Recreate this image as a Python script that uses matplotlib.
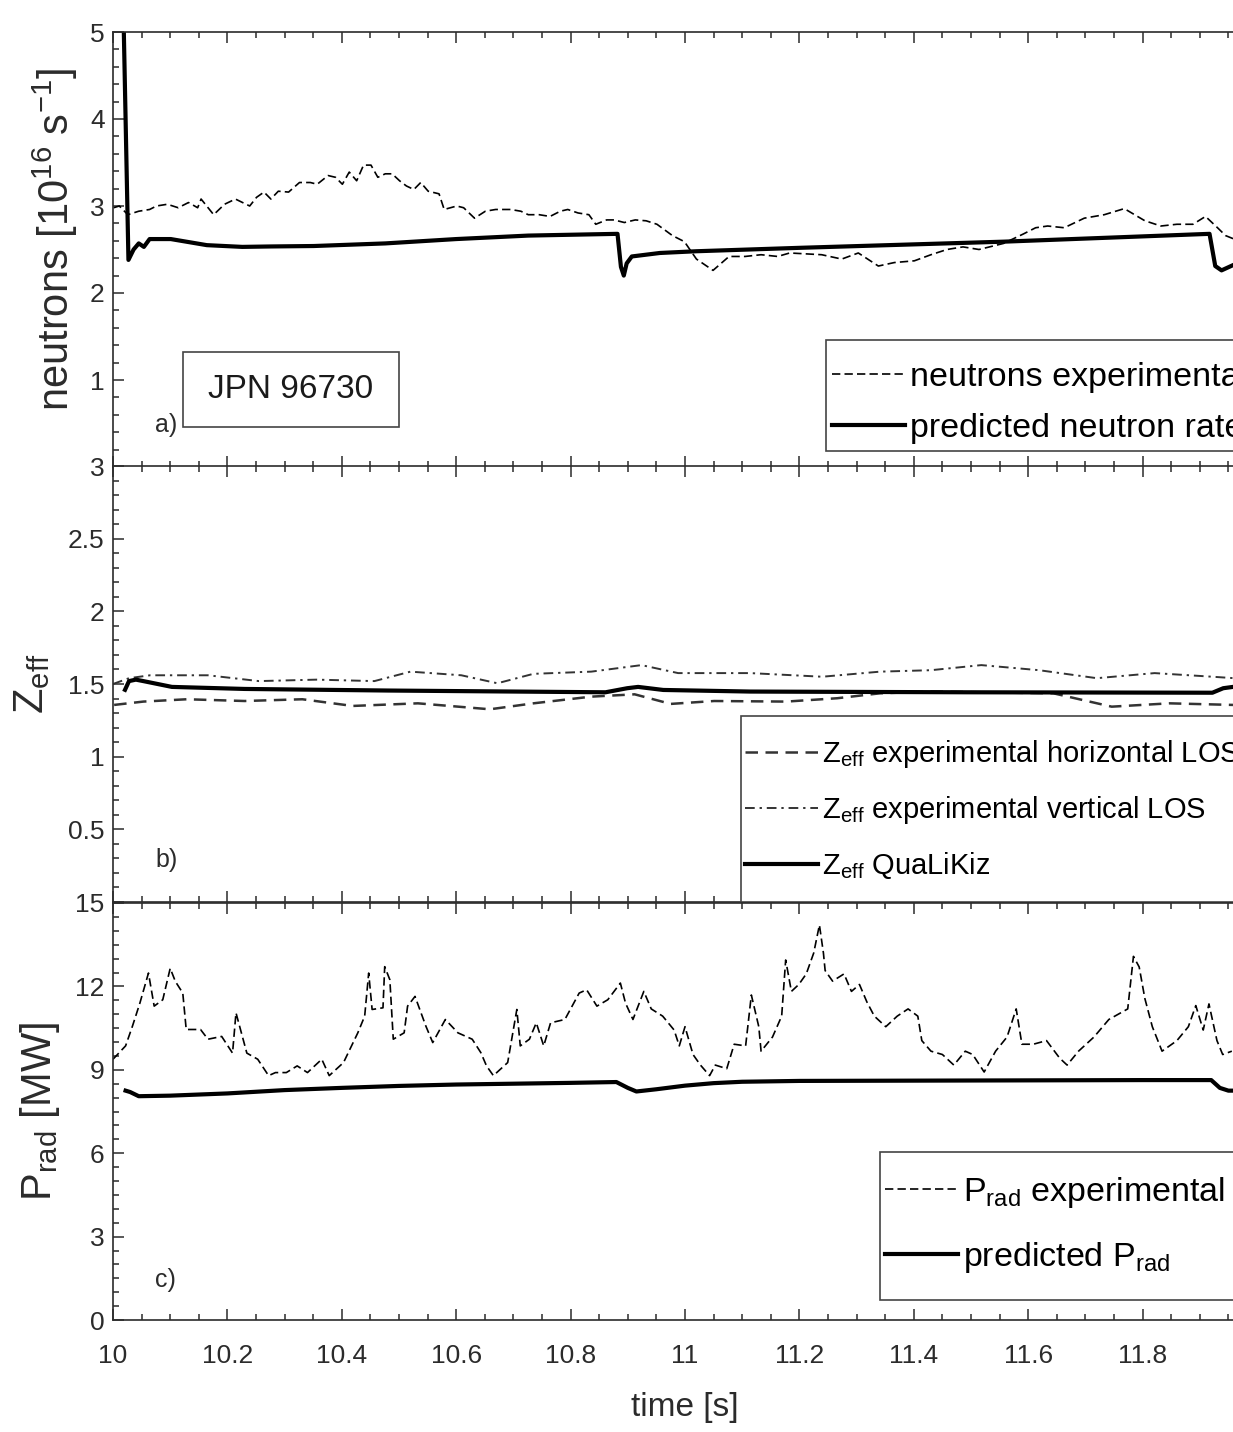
import matplotlib
matplotlib.use('Agg')
import matplotlib.pyplot as plt
from matplotlib.ticker import MultipleLocator
from matplotlib.patches import Rectangle

plt.rcParams['font.family'] = ['Liberation Sans', 'DejaVu Sans']
plt.rcParams['mathtext.fontset'] = 'custom'
plt.rcParams['mathtext.rm'] = 'Liberation Sans'
plt.rcParams['mathtext.it'] = 'Liberation Sans:italic'
plt.rcParams['mathtext.bf'] = 'Liberation Sans:bold'
plt.rcParams['mathtext.sf'] = 'Liberation Sans'
plt.rcParams['mathtext.default'] = 'regular'

# ---------------- data ----------------
# a) neutron rate [1e16 /s]
t_n_exp = [10.001, 10.011, 10.026, 10.045, 10.064, 10.076, 10.095, 10.114, 10.132, 10.148,
           10.154, 10.176, 10.195, 10.214, 10.239, 10.251, 10.264, 10.276, 10.289, 10.307,
           10.326, 10.345, 10.357, 10.376, 10.389, 10.401, 10.413, 10.426, 10.438, 10.451,
           10.463, 10.476, 10.488, 10.501, 10.513, 10.526, 10.538, 10.551, 10.570, 10.579,
           10.601, 10.613, 10.632, 10.651, 10.669, 10.695, 10.713, 10.726, 10.745, 10.764,
           10.782, 10.795, 10.813, 10.832, 10.844, 10.863, 10.876, 10.894, 10.913, 10.932,
           10.951, 10.978, 10.999, 11.020, 11.049, 11.077, 11.105, 11.133, 11.162, 11.183,
           11.239, 11.274, 11.303, 11.338, 11.366, 11.401, 11.430, 11.458, 11.486, 11.514,
           11.557, 11.592, 11.613, 11.634, 11.663, 11.698, 11.733, 11.768, 11.804, 11.832,
           11.860, 11.888, 11.910, 11.931, 11.945, 11.960]
n_exp = [2.98, 3.00, 2.90, 2.94, 2.96, 3.00, 3.02, 2.98, 3.04, 2.98,
         3.08, 2.90, 3.02, 3.08, 3.00, 3.10, 3.16, 3.08, 3.17, 3.16,
         3.27, 3.27, 3.25, 3.35, 3.33, 3.25, 3.39, 3.29, 3.47, 3.47,
         3.33, 3.37, 3.37, 3.29, 3.23, 3.19, 3.27, 3.17, 3.14, 2.96,
         3.00, 2.98, 2.86, 2.94, 2.96, 2.96, 2.94, 2.90, 2.90, 2.88,
         2.94, 2.96, 2.92, 2.90, 2.79, 2.84, 2.84, 2.81, 2.84, 2.83,
         2.79, 2.66, 2.59, 2.39, 2.26, 2.42, 2.42, 2.44, 2.42, 2.46,
         2.44, 2.39, 2.46, 2.31, 2.35, 2.37, 2.44, 2.50, 2.53, 2.50,
         2.57, 2.68, 2.75, 2.77, 2.75, 2.86, 2.90, 2.97, 2.83, 2.77,
         2.79, 2.79, 2.88, 2.75, 2.66, 2.62]
t_n_pred = [10.018, 10.027, 10.036, 10.045, 10.054, 10.064, 10.101, 10.164, 10.226, 10.276,
            10.351, 10.476, 10.600, 10.726, 10.882, 10.888, 10.893, 10.898, 10.907, 10.956,
            11.020, 11.204, 11.557, 11.917, 11.927, 11.938, 11.958]
n_pred = [5.30, 2.38, 2.50, 2.57, 2.53, 2.62, 2.62, 2.55, 2.53, 2.535,
          2.54, 2.57, 2.62, 2.66, 2.68, 2.30, 2.20, 2.34, 2.42, 2.46,
          2.48, 2.52, 2.59, 2.68, 2.31, 2.26, 2.32]

# b) Zeff
t_z_hor = [10.002, 10.053, 10.129, 10.230, 10.331, 10.419, 10.533, 10.659, 10.735, 10.836,
           10.912, 10.975, 11.051, 11.177, 11.266, 11.341, 11.430, 11.644, 11.746, 11.847, 11.958]
z_hor = [1.356, 1.379, 1.395, 1.383, 1.395, 1.349, 1.367, 1.326, 1.367, 1.413,
         1.429, 1.363, 1.383, 1.379, 1.402, 1.436, 1.448, 1.436, 1.344, 1.367, 1.356]
t_z_ver = [10.000, 10.028, 10.065, 10.166, 10.255, 10.356, 10.457, 10.520, 10.609, 10.672,
           10.735, 10.836, 10.924, 10.988, 11.114, 11.240, 11.341, 11.430, 11.518, 11.619,
           11.720, 11.821, 11.922, 11.960]
z_ver = [1.50, 1.54, 1.56, 1.56, 1.52, 1.53, 1.52, 1.585, 1.56, 1.505,
         1.57, 1.585, 1.63, 1.575, 1.575, 1.55, 1.585, 1.595, 1.63, 1.595,
         1.54, 1.575, 1.55, 1.54]
t_z_qlk = [10.021, 10.028, 10.040, 10.053, 10.103, 10.230, 10.482, 10.861, 10.899, 10.918,
           10.962, 11.114, 11.493, 11.922, 11.941, 11.958]
z_qlk = [1.46, 1.52, 1.53, 1.52, 1.48, 1.466, 1.455, 1.443, 1.471, 1.48,
         1.459, 1.448, 1.443, 1.44, 1.471, 1.48]

# c) Prad [MW]
t_p_exp = [10.000, 10.022, 10.034, 10.047, 10.062, 10.072, 10.087, 10.100, 10.109, 10.122,
           10.128, 10.153, 10.166, 10.190, 10.209, 10.215, 10.234, 10.253, 10.272, 10.284,
           10.303, 10.322, 10.340, 10.365, 10.378, 10.403, 10.428, 10.440, 10.447, 10.453,
           10.472, 10.475, 10.484, 10.490, 10.509, 10.515, 10.528, 10.547, 10.559, 10.581,
           10.603, 10.628, 10.643, 10.653, 10.665, 10.690, 10.706, 10.712, 10.728, 10.740,
           10.753, 10.765, 10.790, 10.815, 10.828, 10.846, 10.865, 10.887, 10.896, 10.909,
           10.928, 10.941, 10.961, 10.981, 10.990, 11.000, 11.014, 11.027, 11.043, 11.053,
           11.073, 11.086, 11.106, 11.116, 11.129, 11.133, 11.153, 11.169, 11.176, 11.186,
           11.199, 11.212, 11.225, 11.235, 11.242, 11.245, 11.258, 11.278, 11.291, 11.305,
           11.318, 11.331, 11.351, 11.371, 11.390, 11.407, 11.414, 11.430, 11.450, 11.470,
           11.490, 11.503, 11.523, 11.543, 11.563, 11.579, 11.589, 11.609, 11.632, 11.655,
           11.668, 11.688, 11.715, 11.741, 11.774, 11.784, 11.794, 11.804, 11.817, 11.834,
           11.860, 11.880, 11.893, 11.906, 11.916, 11.930, 11.940, 11.956]
p_exp = [9.38, 9.86, 10.57, 11.40, 12.48, 11.29, 11.52, 12.65, 12.18, 11.76,
         10.45, 10.45, 10.10, 10.20, 9.60, 11.05, 9.60, 9.38, 8.79, 8.90,
         8.90, 9.14, 8.90, 9.38, 8.79, 9.26, 10.33, 10.93, 12.48, 11.17,
         11.23, 12.71, 12.24, 10.10, 10.33, 11.29, 11.64, 10.57, 9.98, 10.81,
         10.33, 10.10, 9.62, 9.14, 8.79, 9.26, 11.17, 9.86, 10.10, 10.69,
         9.86, 10.69, 10.81, 11.76, 11.88, 11.29, 11.52, 12.12, 11.40, 10.81,
         11.82, 11.19, 10.93, 10.43, 9.86, 10.55, 9.55, 9.17, 8.79, 9.17,
         9.04, 9.92, 9.86, 11.69, 10.55, 9.67, 10.18, 10.93, 12.95, 11.82,
         12.07, 12.45, 13.20, 14.21, 13.20, 12.57, 12.19, 12.45, 11.82, 12.07,
         11.44, 10.93, 10.55, 10.93, 11.19, 10.93, 10.05, 9.67, 9.55, 9.17,
         9.67, 9.55, 8.92, 9.67, 10.18, 11.19, 9.92, 9.92, 10.05, 9.42,
         9.17, 9.67, 10.18, 10.81, 11.19, 13.08, 12.70, 11.56, 10.55, 9.67,
         10.05, 10.55, 11.31, 10.43, 11.37, 10.05, 9.55, 9.67]
t_p_pred = [10.022, 10.030, 10.045, 10.100, 10.200, 10.300, 10.400, 10.500, 10.600, 10.700,
            10.800, 10.880, 10.900, 10.915, 10.950, 11.000, 11.050, 11.100, 11.200, 11.400,
            11.600, 11.800, 11.920, 11.935, 11.950, 11.970]
p_pred = [8.25, 8.20, 8.05, 8.07, 8.15, 8.27, 8.35, 8.42, 8.47, 8.50,
          8.53, 8.56, 8.35, 8.22, 8.30, 8.43, 8.52, 8.57, 8.60, 8.61,
          8.62, 8.63, 8.63, 8.35, 8.25, 8.25]

x_ticks = [10, 10.2, 10.4, 10.6, 10.8, 11, 11.2, 11.4, 11.6, 11.8, 12]
x_ticklabels = ['10', '10.2', '10.4', '10.6', '10.8', '11', '11.2', '11.4', '11.6', '11.8', '']

# ---------------- figure ----------------
W, H = 1233, 1432
fig = plt.figure(figsize=(W / 100, H / 100), dpi=100)

AX_COL = '#2b2b2b'
FRAME_COL = '#444444'
left = 113 / W
width = 1144 / W

def px_axes(top, bottom):
    return [left, 1 - bottom / H, width, (bottom - top) / H]

def fig_pt(x, y):
    return (x / W, 1 - y / H)

ax1 = fig.add_axes(px_axes(32, 467))
ax2 = fig.add_axes(px_axes(466, 902))
ax3 = fig.add_axes(px_axes(903, 1320))

for ax in (ax1, ax2, ax3):
    ax.set_xlim(10, 12)
    ax.set_xticks(x_ticks)
    ax.xaxis.set_minor_locator(MultipleLocator(0.05))
    ax.tick_params(which='both', direction='in', top=True, right=True, colors=AX_COL,
                   labelsize=19, width=1.1)
    ax.tick_params(which='major', length=8)
    ax.tick_params(which='minor', length=4.5)
    ax.tick_params(axis='y', pad=6)
    ax.tick_params(axis='x', pad=17)
    for s in ax.spines.values():
        s.set_color(AX_COL)
        s.set_linewidth(1.2)

ax1.set_xticklabels([])
ax2.set_xticklabels([])
ax3.set_xticklabels(x_ticklabels)

dash_exp = (0, (5, 2.5))

def legend_box(ax, x0, y0, x1, y1):
    # white framed box behind a legend (pixel coords of the reference)
    ax.add_patch(Rectangle(fig_pt(x0, y1), (x1 - x0) / W, (y1 - y0) / H,
                           transform=fig.transFigure, facecolor='white', edgecolor=FRAME_COL,
                           lw=1.2, zorder=4, clip_on=False))

def make_legend(ax, handles, labels, x, y, fs, spacing, hl):
    leg = ax.legend(handles, labels, loc='upper left', bbox_to_anchor=fig_pt(x, y),
                    bbox_transform=fig.transFigure, fontsize=fs, frameon=False,
                    borderpad=0, labelspacing=spacing, handlelength=hl,
                    handletextpad=0.15, borderaxespad=0)
    leg.set_zorder(5)
    return leg

# panel a
ax1.set_ylim(0, 5)
ax1.set_yticks([0, 1, 2, 3, 4, 5])
ax1.set_yticklabels(['', '1', '2', '3', '4', '5'])
ax1.yaxis.set_minor_locator(MultipleLocator(0.2))
l_a1, = ax1.plot(t_n_exp, n_exp, color='black', lw=1.2, ls=dash_exp)
l_a2, = ax1.plot(t_n_pred, n_pred, color='black', lw=3.0)
ax1.set_ylabel('neutrons [10$^{16}$ s$^{-1}$]', fontsize=30, color=AX_COL)
ax1.yaxis.set_label_coords(-0.029, 0.524)
legend_box(ax1, 826, 340, 1265, 451)
make_legend(ax1, [l_a1, l_a2], ['neutrons experimental', 'predicted neutron rate'],
            832, 362, 24.5, 0.58, 2.15)
ax1.text(0.037, 0.08, 'a)', transform=ax1.transAxes, fontsize=18, color=AX_COL)

# panel b
ax2.set_ylim(0, 3)
ax2.set_yticks([0, 0.5, 1, 1.5, 2, 2.5, 3])
ax2.set_yticklabels(['', '0.5', '1', '1.5', '2', '2.5', '3'])
ax2.yaxis.set_minor_locator(MultipleLocator(0.1))
l_b1, = ax2.plot(t_z_hor, z_hor, color='#333333', lw=1.8, ls=(0, (5, 3)))
l_b2, = ax2.plot(t_z_ver, z_ver, color='#333333', lw=1.4, ls=(0, (5, 2.5, 1.2, 2.5)))
l_b3, = ax2.plot(t_z_qlk, z_qlk, color='black', lw=3.0)
ax2.set_ylabel('Z$_{eff}$', fontsize=30, color=AX_COL)
ax2.yaxis.set_label_coords(-0.053, 0.5)
legend_box(ax2, 741, 716, 1265, 902)
make_legend(ax2, [l_b1, l_b2, l_b3],
            ['Z$_{eff}$ experimental horizontal LOS', 'Z$_{eff}$ experimental vertical LOS',
             'Z$_{eff}$ QuaLiKiz'],
            745, 738, 21, 0.82, 2.5)
ax2.text(0.037, 0.08, 'b)', transform=ax2.transAxes, fontsize=18, color=AX_COL)

# panel c
ax3.set_ylim(0, 15)
ax3.set_yticks([0, 3, 6, 9, 12, 15])
ax3.yaxis.set_minor_locator(MultipleLocator(0.5))
l_c1, = ax3.plot(t_p_exp, p_exp, color='black', lw=1.2, ls=dash_exp)
l_c2, = ax3.plot(t_p_pred, p_pred, color='black', lw=3.0)
ax3.set_ylabel('P$_{rad}$ [MW]', fontsize=30, color=AX_COL)
ax3.yaxis.set_label_coords(-0.045, 0.5)
ax3.set_xlabel('time [s]', fontsize=24, color=AX_COL)
ax3.xaxis.set_label_coords(0.5, -0.172)
legend_box(ax3, 880, 1152, 1265, 1300)
make_legend(ax3, [l_c1, l_c2], ['P$_{rad}$ experimental', 'predicted P$_{rad}$'],
            885, 1175, 24.5, 0.88, 2.15)
ax3.text(0.037, 0.08, 'c)', transform=ax3.transAxes, fontsize=18, color=AX_COL)

# shot number box
fig.add_artist(Rectangle(fig_pt(183, 427), 216 / W, 75 / H, transform=fig.transFigure,
                         fill=False, ec=FRAME_COL, lw=1.2))
fig.text(291 / W, 1 - 390 / H, 'JPN 96730', ha='center', va='center', fontsize=24, color='#1a1a1a')

fig.savefig('out.png', dpi=100)
